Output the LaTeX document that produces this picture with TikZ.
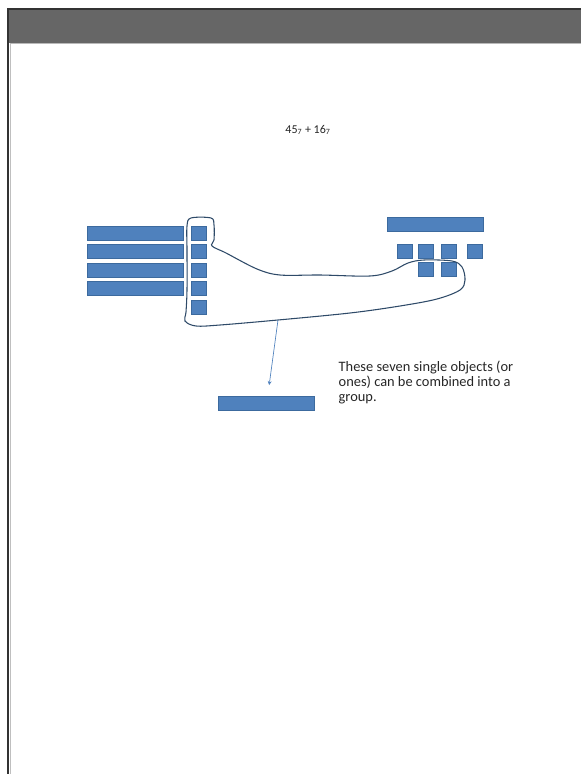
\documentclass[tikz,border=0pt]{standalone}
\usepackage{fontspec}
\setmainfont{Carlito}
\usetikzlibrary{arrows.meta,positioning}
\definecolor{tenblue}{HTML}{4F81BD}
\definecolor{tenedge}{HTML}{3C6A9E}
\definecolor{lassoline}{HTML}{2E4A68}
\definecolor{headgray}{HTML}{666666}

\begin{document}
\begin{tikzpicture}[x=0.75pt, y=-0.75pt, node distance=3pt, every node/.style={font=\fontsize{9}{11}\selectfont, text=black!85},
		ten/.style={draw=tenedge, fill=tenblue, line width=0.4pt, minimum width=72pt, minimum height=10.5pt, inner sep=0pt},
		one/.style={draw=tenedge, fill=tenblue, line width=0.4pt, minimum width=11pt, minimum height=10.5pt, inner sep=0pt}]
	\useasboundingbox (0,0) rectangle (581,774);
	% page and header band
	\fill[headgray] (9,10) rectangle (581,43);
	\draw[gray!55, line width=0.75pt] (10,44) -- (581,44);
	\draw[black!80, line width=1.2pt] (8,774) -- (8,9) -- (581,9);
	\draw[gray!50, line width=0.75pt] (10,44) -- (10,774);
	\node (sum) at (308,130) {45\textsubscript{7} + 16\textsubscript{7}};
	% 45: four groups and five ones
	\node[ten] (ten1) at (135,233) {};
	\node[ten, below=of ten1] (ten2) {};
	\node[ten, below=of ten2] (ten3) {};
	\node[ten, below=of ten3] (ten4) {};
	\node[one, right=6pt of ten1] (one1) {};
	\node[one, right=6pt of ten2] (one2) {};
	\node[one, right=6pt of ten3] (one3) {};
	\node[one, right=6pt of ten4] (one4) {};
	\node[one, below=of one4] (one5) {};
	% 16: one group and six ones
	\node[ten] (tenR) at (435,224.5) {};
	\node[one] (oneR1) at (404.5,251.5) {};
	\node[one] (oneR2) at (426,251.5) {};
	\node[one] (oneR3) at (448.5,251.5) {};
	\node[one] (oneR4) at (475,251.5) {};
	\node[one] (oneR5) at (426,269) {};
	\node[one] (oneR6) at (448.5,269) {};
	% new group
	\node[ten] (group) at (266.5,403) {};
	\node[anchor=north west, align=left, font=\fontsize{10.8}{11.25}\selectfont] (note) at (334,356) {These seven single objects (or\\ones) can be combined into a\\group.};
	% lasso round the seven ones
	\draw[lassoline, line width=0.8pt] plot[smooth cycle, tension=0.55] coordinates {
		(187,226) (191,218) (211,218) (214,225) (214,240) (212,246) (226,253) (257,269)
		(280,275) (320,275) (370,276) (392,271) (408,263) (424,260) (452,261) (462,267)
		(465,280) (460,290) (437,299) (400,306) (350,313) (278,320) (220,325) (196,326)
		(185,321) (186,312) (187,290) (187,250)};
	\coordinate (grab) at (278,320);
	\draw[-{Stealth[length=3pt, width=3pt]}, tenblue, line width=0.5pt] (grab) -- ([xshift=2pt, yshift=8pt]group.north);
\end{tikzpicture}
\end{document}
